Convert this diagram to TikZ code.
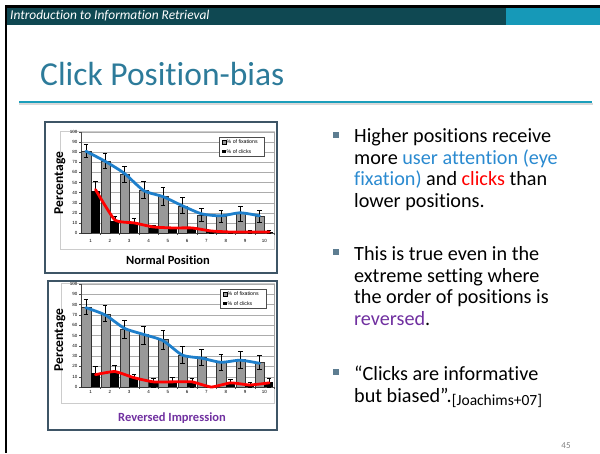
\documentclass[tikz,border=0pt]{standalone}
\usepackage{fontspec}
\setmainfont{Carlito}[Ligatures=NoCommon]
\newfontfamily\chartfont{Liberation Sans}
\definecolor{headdark}{HTML}{0F4852}
\definecolor{headlight}{HTML}{1699B8}
\definecolor{titlecol}{HTML}{2D7B9A}
\definecolor{rulecol}{HTML}{1B9EBB}
\definecolor{framecol}{HTML}{3E5566}
\definecolor{bulletcol}{HTML}{5D7D91}
\definecolor{fixblue}{HTML}{1E7FCB}
\definecolor{textblue}{HTML}{2A8AD0}
\definecolor{revpurple}{HTML}{7030A0}
\definecolor{barcol}{HTML}{999999}

\tikzset{
  gridln/.style={draw=gray!65, line width=0.4pt},
  fixbar/.style={fill=barcol, draw=black!80, line width=0.3pt},
  clickbar/.style={fill=black},
  errbar/.style={draw=black, line width=0.4pt},
  fixline/.style={draw=fixblue, line width=2.8pt, line cap=round, line join=round},
  clickline/.style={draw=red, line width=2.8pt, line cap=round, line join=round},
  ticklbl/.style={font=\chartfont\fontsize{4.5}{5}\selectfont, inner sep=0pt},
  legtxt/.style={font=\chartfont\fontsize{5.2}{6}\selectfont, inner sep=0pt, anchor=west},
  axlbl/.style={font=\bfseries\fontsize{12.5}{12.5}\selectfont, inner sep=0pt},
  frame/.style={draw=framecol, line width=1.4pt},
  bulletsq/.style={fill=bulletcol, minimum size=5.5pt, inner sep=0pt},
  bullettext/.style={font=\fontsize{20.2}{21.4}\selectfont, inner sep=0pt, align=left, anchor=base west}
}

\begin{document}
\begin{tikzpicture}[x=1pt, y=-1pt]
  \useasboundingbox (0,0) rectangle (600,453);

  % slide head
  \fill[headdark] (6,8) rectangle (506,25);
  \fill[headlight] (506,8) rectangle (600,25);
  \fill[black] (5,5) rectangle (600,8);
  \fill[black] (5,5) rectangle (7,453);
  \node[font=\itshape\fontsize{13.4}{13}\selectfont, text=white, inner sep=0pt, anchor=base west]
    (head) at (10,19.5) {Introduction to Information Retrieval};

  \node[font=\fontsize{33.5}{33}\selectfont, text=titlecol, inner sep=0pt, anchor=base west]
    (title) at (40,85) {Click Position-bias};
  \draw[gray!30, line width=2pt] (19,103.5) -- (593,103.5);
  \draw[rulecol, line width=2pt] (19,102) -- (592,102);

  % chart frames
  \draw[frame] (45,122) rectangle (277,273);
  \draw[frame] (48,281) rectangle (277,430);
  \draw[gray!40, line width=0.5pt] (60,131) rectangle (274,249);
  \draw[gray!40, line width=0.5pt] (61,283) rectangle (274,403);

  % normal position
  \begin{scope}[shift={(81,233)}, x=19.3pt, y=1.01pt]
    \foreach \v in {10,20,...,100}
      \draw[gridln] (0,\v) -- (10,\v);
    \foreach \v in {0,10,...,100} {
      \draw[black!70, line width=0.3pt] (0,\v) -- (-0.12,\v);
      \node[ticklbl, anchor=east] (na\v) at (-0.18,\v) {\v};
    }
    \draw[black!70, line width=0.4pt] (0,0) -- (0,100);
    \draw[gray!70, line width=0.4pt] (10,0) -- (10,100);
    \draw[black!70, line width=0.4pt] (0,0) -- (10,0);
    \foreach \i/\f/\fl/\fh/\c/\cl/\ch in {1/81/75/88/42/34/51, 2/71/64/79/12/9/17,
        3/58/50/66/10/4/15, 4/42/34/51/5/4/8, 5/36/28/45/4/2/6, 6/27/20/35/4/2/6,
        7/18/12/25/1.5/0/3, 8/17/11/23/0.8/0/1.5, 9/20/12/27/0.8/0/3, 10/17/11/23/1.2/0/3} {
      \draw[fixbar] (\i-0.98,0) rectangle (\i-0.5,\f);
      \fill[clickbar] (\i-0.5,0) rectangle (\i-0.03,\c);
      \draw[errbar] (\i-0.75,\fl) -- (\i-0.75,\fh)
        (\i-0.87,\fl) -- (\i-0.63,\fl) (\i-0.87,\fh) -- (\i-0.63,\fh);
      \draw[errbar] (\i-0.25,\cl) -- (\i-0.25,\ch)
        (\i-0.37,\cl) -- (\i-0.13,\cl) (\i-0.37,\ch) -- (\i-0.13,\ch);
      \draw[black!70, line width=0.3pt] (\i,0) -- (\i,-2);
      \node[ticklbl] (nx\i) at (\i-0.5,-8) {\i};
    }
    \draw[fixline] plot[smooth, tension=0.4] coordinates {(0.25,81) (1.25,71) (2.25,59)
      (3.25,42) (4.25,36) (5.25,27) (6.25,19) (7.25,17) (8.25,20) (9.25,17)};
    \draw[clickline] plot[smooth, tension=0.3] coordinates {(0.75,43) (1.75,13) (2.75,10)
      (3.75,6) (4.75,5) (5.75,5) (6.75,2) (7.75,1) (8.75,1) (9.75,1)};
  \end{scope}
  \node[axlbl, font=\bfseries\fontsize{13.5}{13.5}\selectfont, rotate=90] (nylbl) at (60,183) {Percentage};
  \node[axlbl] (nxlbl) at (168,260) {Normal Position};
  \draw[fill=white, draw=black!70, line width=0.4pt] (219,137) rectangle (264,156);
  \node[fill=barcol, draw=black, line width=0.3pt, minimum size=3.5pt, inner sep=0pt] (nk1) at (224,142) {};
  \node[fill=black, minimum size=3.8pt, inner sep=0pt] (nk2) at (224,151.5) {};
  \node[legtxt] (nt1) at (226.5,142) {\% of fixations};
  \node[legtxt] (nt2) at (226.5,151.5) {\% of clicks};

  % reversed impression
  \begin{scope}[shift={(81,387)}, x=19.3pt, y=1.03pt]
    \foreach \v in {10,20,...,100}
      \draw[gridln] (0,\v) -- (10,\v);
    \foreach \v in {0,10,...,100} {
      \draw[black!70, line width=0.3pt] (0,\v) -- (-0.12,\v);
      \node[ticklbl, anchor=east] (ra\v) at (-0.18,\v) {\v};
    }
    \draw[black!70, line width=0.4pt] (0,0) -- (0,100);
    \draw[gray!70, line width=0.4pt] (10,0) -- (10,100);
    \draw[black!70, line width=0.4pt] (0,0) -- (10,0);
    \foreach \i/\f/\fl/\fh/\c/\cl/\ch in {1/78/71/85/14/7/20, 2/71/64/79/15/11/21,
        3/56/47/65/9/5/12, 4/51/42/59/5/0/9, 5/46/37/55/6/2/10, 6/31/23/40/5/0/9,
        7/29/21/37/0.3/0/0.3, 8/24/16/32/5/2/8, 9/27/18/35/2/0/5, 10/24/17/31/5/0/9} {
      \draw[fixbar] (\i-0.98,0) rectangle (\i-0.5,\f);
      \fill[clickbar] (\i-0.5,0) rectangle (\i-0.03,\c);
      \draw[errbar] (\i-0.75,\fl) -- (\i-0.75,\fh)
        (\i-0.87,\fl) -- (\i-0.63,\fl) (\i-0.87,\fh) -- (\i-0.63,\fh);
      \draw[errbar] (\i-0.25,\cl) -- (\i-0.25,\ch)
        (\i-0.37,\cl) -- (\i-0.13,\cl) (\i-0.37,\ch) -- (\i-0.13,\ch);
      \draw[black!70, line width=0.3pt] (\i,0) -- (\i,-2);
      \node[ticklbl] (rx\i) at (\i-0.5,-5) {\i};
    }
    \draw[fixline] plot[smooth, tension=0.4] coordinates {(0.25,77) (1.25,70) (2.25,57)
      (3.25,51) (4.25,45) (5.25,31) (6.25,28) (7.25,24) (8.25,26) (9.25,23)};
    \draw[clickline] plot[smooth, tension=0.3] coordinates {(0.75,12) (1.75,15) (2.75,9)
      (3.75,5) (4.75,5) (5.75,5) (6.75,0) (7.75,4) (8.75,2) (9.75,4)};
  \end{scope}
  \node[axlbl, font=\bfseries\fontsize{13.5}{13.5}\selectfont, rotate=90] (rylbl) at (60,340) {Percentage};
  \node[axlbl, text=revpurple] (rxlbl) at (172,418) {Reversed Impression};
  \draw[fill=white, draw=black!70, line width=0.4pt] (220,289) rectangle (266,308);
  \node[fill=barcol, draw=black, line width=0.3pt, minimum size=3.5pt, inner sep=0pt] (rk1) at (225,294) {};
  \node[fill=black, minimum size=3.8pt, inner sep=0pt] (rk2) at (225,303.5) {};
  \node[legtxt] (rt1) at (227.5,294) {\% of fixations};
  \node[legtxt] (rt2) at (227.5,303.5) {\% of clicks};

  % bullets (node anchored at last baseline)
  \node[bulletsq] (sq1) at (336,135) {};
  \node[bulletsq] (sq2) at (336,252) {};
  \node[bulletsq] (sq3) at (336,372) {};
  \node[bullettext] (b1) at (354,207) {Higher positions receive\\
    more \textcolor{textblue}{user attention (eye}\\
    \textcolor{textblue}{fixation)} and \textcolor{red}{clicks} than\\lower positions.};
  \node[bullettext] (b2) at (354,325) {This is true even in the\\extreme setting where\\
    the order of positions is\\\textcolor{revpurple}{reversed}.};
  \node[bullettext] (b3) at (354,402) {``Clicks are informative\\
    but biased''.\raisebox{-3pt}{\fontsize{15.5}{15.5}\selectfont[Joachims+07]}};

  \node[font=\fontsize{9}{9}\selectfont, text=gray, inner sep=0pt] (pg) at (566,446) {45};
\end{tikzpicture}
\end{document}
